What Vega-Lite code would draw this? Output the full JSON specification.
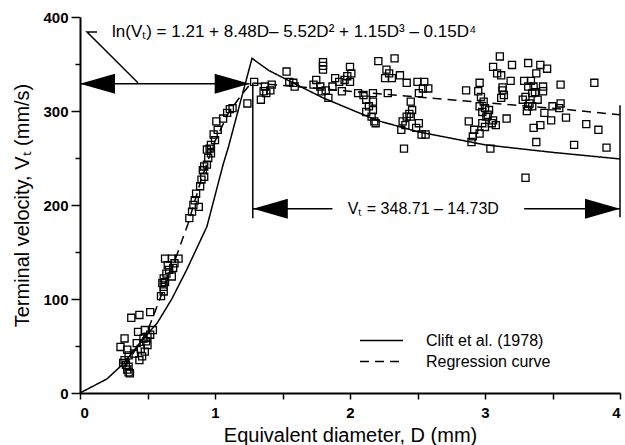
{
  "$schema": "https://vega.github.io/schema/vega-lite/v6.json",
  "width": 540,
  "height": 376,
  "autosize": {"type": "none"},
  "padding": {"left": 80, "top": 17, "right": 5, "bottom": 52},
  "background": "white",
  "config": {
    "view": {"stroke": null},
    "font": "Liberation Sans",
    "axis": {
      "grid": false,
      "domainColor": "black",
      "domainWidth": 2,
      "tickColor": "black",
      "tickWidth": 1.5,
      "labelColor": "black",
      "labelFont": "Liberation Sans",
      "labelFontSize": 15,
      "labelFontWeight": "bold",
      "titleColor": "black",
      "titleFont": "Liberation Sans",
      "titleFontSize": 20,
      "titleFontWeight": "normal"
    },
    "legend": {
      "labelFont": "Liberation Sans",
      "labelFontSize": 16,
      "labelColor": "black"
    }
  },
  "datasets": {
    "pts": [
      {"D":0.38,"V":80},{"D":0.44,"V":83},{"D":0.52,"V":86},{"D":0.33,"V":58},{"D":0.30,"V":49},{"D":0.35,"V":46},
      {"D":0.43,"V":65},{"D":0.48,"V":67},{"D":0.54,"V":67},{"D":0.50,"V":60},{"D":0.47,"V":58},{"D":0.50,"V":51},
      {"D":0.48,"V":44},{"D":0.44,"V":35},{"D":0.46,"V":39},{"D":0.33,"V":35},{"D":0.36,"V":28},{"D":0.37,"V":21},
      {"D":0.35,"V":25},{"D":0.32,"V":32},{"D":0.36,"V":40},{"D":0.42,"V":53},{"D":0.49,"V":55},{"D":0.36,"V":22},
      {"D":0.34,"V":30},{"D":0.45,"V":47},{"D":0.52,"V":62},{"D":0.40,"V":42},
      {"D":0.62,"V":113},{"D":0.63,"V":118},{"D":0.62,"V":108},{"D":0.60,"V":103},{"D":0.61,"V":117},{"D":0.63,"V":143},
      {"D":0.68,"V":143},{"D":0.73,"V":143},{"D":0.65,"V":136},{"D":0.69,"V":133},{"D":0.64,"V":127},{"D":0.68,"V":124},
      {"D":0.62,"V":122},{"D":0.66,"V":131},{"D":0.70,"V":138},
      {"D":0.81,"V":186},{"D":0.83,"V":193},{"D":0.84,"V":200},{"D":0.85,"V":205},{"D":0.88,"V":198},{"D":0.86,"V":212},
      {"D":0.89,"V":220},{"D":0.90,"V":227},{"D":0.92,"V":230},{"D":0.91,"V":237},{"D":0.94,"V":243},{"D":0.95,"V":250},
      {"D":0.97,"V":255},{"D":0.92,"V":241},{"D":0.94,"V":259},{"D":0.97,"V":264},{"D":1.00,"V":269},{"D":0.99,"V":275},
      {"D":1.02,"V":280},{"D":1.01,"V":289},{"D":1.06,"V":292},{"D":1.09,"V":298},{"D":1.11,"V":302},{"D":1.13,"V":303},
      {"D":1.24,"V":308},{"D":1.29,"V":331},{"D":0.96,"V":260},
      {"D":1.36,"V":321},{"D":1.34,"V":312},{"D":1.37,"V":326},{"D":1.38,"V":319},{"D":1.41,"V":322},{"D":1.42,"V":328},
      {"D":1.53,"V":342},{"D":1.55,"V":331},{"D":1.58,"V":330},{"D":1.59,"V":326},
      {"D":1.80,"V":352},{"D":1.80,"V":348},{"D":1.80,"V":344},{"D":1.75,"V":333},{"D":1.73,"V":328},{"D":1.78,"V":326},
      {"D":1.79,"V":321},{"D":1.82,"V":322},{"D":1.84,"V":314},{"D":1.89,"V":335},{"D":1.92,"V":331},{"D":1.94,"V":321},
      {"D":1.87,"V":326},{"D":2.00,"V":347},{"D":2.01,"V":340},{"D":1.98,"V":337},{"D":2.00,"V":331},{"D":1.96,"V":333},
      {"D":2.06,"V":319},{"D":2.10,"V":317},{"D":2.12,"V":312},{"D":2.14,"V":305},{"D":2.12,"V":299},{"D":2.16,"V":294},
      {"D":2.18,"V":289},{"D":2.19,"V":287},{"D":2.17,"V":319},{"D":2.17,"V":310},{"D":2.17,"V":301},
      {"D":2.21,"V":353},{"D":2.33,"V":356},{"D":2.27,"V":344},{"D":2.29,"V":340},{"D":2.26,"V":335},{"D":2.31,"V":335},
      {"D":2.37,"V":338},{"D":2.42,"V":330},{"D":2.50,"V":331},{"D":2.55,"V":331},{"D":2.54,"V":324},{"D":2.51,"V":319},
      {"D":2.58,"V":324},{"D":2.28,"V":319},{"D":2.45,"V":310},{"D":2.46,"V":301},{"D":2.42,"V":294},{"D":2.39,"V":289},
      {"D":2.45,"V":294},{"D":2.38,"V":280},{"D":2.49,"V":282},{"D":2.51,"V":287},{"D":2.53,"V":275},{"D":2.56,"V":275},
      {"D":2.40,"V":260},{"D":2.44,"V":297},{"D":2.41,"V":285},
      {"D":2.86,"V":322},{"D":2.95,"V":321},{"D":2.96,"V":330},{"D":2.88,"V":289},{"D":2.96,"V":305},{"D":2.98,"V":299},
      {"D":3.01,"V":294},{"D":2.98,"V":287},{"D":2.96,"V":276},{"D":2.91,"V":273},{"D":2.90,"V":267},{"D":3.04,"V":260},
      {"D":3.03,"V":301},{"D":3.06,"V":290},{"D":3.06,"V":347},{"D":3.09,"V":340},{"D":2.99,"V":310},{"D":3.00,"V":303},
      {"D":3.02,"V":296},{"D":2.97,"V":315},{"D":3.00,"V":283},{"D":2.92,"V":280},
      {"D":3.11,"V":358},{"D":3.20,"V":349},{"D":3.32,"V":351},{"D":3.41,"V":349},{"D":3.46,"V":345},{"D":3.12,"V":338},
      {"D":3.19,"V":332},{"D":3.38,"V":340},{"D":3.29,"V":332},{"D":3.34,"V":332},{"D":3.32,"V":326},{"D":3.36,"V":326},
      {"D":3.43,"V":326},{"D":3.43,"V":321},{"D":3.35,"V":319},{"D":3.13,"V":322},{"D":3.14,"V":317},{"D":3.12,"V":314},
      {"D":3.28,"V":312},{"D":3.33,"V":308},{"D":3.35,"V":305},{"D":3.32,"V":305},{"D":3.56,"V":328},{"D":3.81,"V":330},
      {"D":3.50,"V":305},{"D":3.56,"V":308},{"D":3.55,"V":303},{"D":3.44,"V":298},{"D":3.49,"V":290},{"D":3.60,"V":293},
      {"D":3.41,"V":285},{"D":3.36,"V":282},{"D":3.75,"V":286},{"D":3.84,"V":280},{"D":3.38,"V":267},{"D":3.66,"V":264},
      {"D":3.90,"V":261},{"D":3.30,"V":229},{"D":3.16,"V":292},{"D":3.08,"V":285},{"D":3.30,"V":315},{"D":3.39,"V":312},
      {"D":3.37,"V":320},{"D":3.31,"V":300},{"D":3.13,"V":325},{"D":3.05,"V":287}
    ],
    "curves": [
      {"series":"Clift et al. (1978)","D":0,"V":0},
      {"series":"Clift et al. (1978)","D":0.2,"V":15},
      {"series":"Clift et al. (1978)","D":0.32,"V":31},
      {"series":"Clift et al. (1978)","D":0.47,"V":58},
      {"series":"Clift et al. (1978)","D":0.57,"V":74},
      {"series":"Clift et al. (1978)","D":0.68,"V":100},
      {"series":"Clift et al. (1978)","D":0.79,"V":131},
      {"series":"Clift et al. (1978)","D":0.94,"V":177},
      {"series":"Clift et al. (1978)","D":1.0,"V":210},
      {"series":"Clift et al. (1978)","D":1.06,"V":243},
      {"series":"Clift et al. (1978)","D":1.1,"V":262},
      {"series":"Clift et al. (1978)","D":1.274,"V":356},
      {"series":"Clift et al. (1978)","D":1.4,"V":343},
      {"series":"Clift et al. (1978)","D":1.55,"V":332},
      {"series":"Clift et al. (1978)","D":1.8,"V":314},
      {"series":"Clift et al. (1978)","D":2.0,"V":302},
      {"series":"Clift et al. (1978)","D":2.2,"V":290},
      {"series":"Clift et al. (1978)","D":2.5,"V":278},
      {"series":"Clift et al. (1978)","D":3.0,"V":264},
      {"series":"Clift et al. (1978)","D":3.5,"V":256},
      {"series":"Clift et al. (1978)","D":4.0,"V":249},
      {"series":"Regression curve","D":0.33,"V":28},
      {"series":"Regression curve","D":0.42,"V":48},
      {"series":"Regression curve","D":0.5,"V":66},
      {"series":"Regression curve","D":0.6,"V":103},
      {"series":"Regression curve","D":0.7,"V":140},
      {"series":"Regression curve","D":0.8,"V":180},
      {"series":"Regression curve","D":0.9,"V":228},
      {"series":"Regression curve","D":1.0,"V":268},
      {"series":"Regression curve","D":1.1,"V":298},
      {"series":"Regression curve","D":1.2,"V":318},
      {"series":"Regression curve","D":1.27,"V":330},
      {"series":"Regression curve","D":2.0,"V":321},
      {"series":"Regression curve","D":2.5,"V":315},
      {"series":"Regression curve","D":3.0,"V":309},
      {"series":"Regression curve","D":3.5,"V":303},
      {"series":"Regression curve","D":4.0,"V":296}
    ],
    "guides": [
      {"seg":"leader","o":1,"D":0.126,"V":384},
      {"seg":"leader","o":2,"D":0.052,"V":384},
      {"seg":"leader","o":3,"D":0.429,"V":330},
      {"seg":"upper","o":1,"D":0,"V":329},
      {"seg":"upper","o":2,"D":1.257,"V":329},
      {"seg":"vL","o":1,"D":1.28,"V":330},
      {"seg":"vL","o":2,"D":1.28,"V":186},
      {"seg":"vR","o":1,"D":4,"V":306},
      {"seg":"vR","o":2,"D":4,"V":187},
      {"seg":"lowL","o":1,"D":1.28,"V":196},
      {"seg":"lowL","o":2,"D":1.87,"V":196},
      {"seg":"lowR","o":1,"D":3.29,"V":196},
      {"seg":"lowR","o":2,"D":4,"V":196}
    ],
    "heads": [
      {"dir":"L","D":0,"V":329},
      {"dir":"R","D":1.257,"V":329},
      {"dir":"L","D":1.28,"V":196},
      {"dir":"R","D":4,"V":196}
    ],
    "eqTop": [
      {"txt":"ln(Vₜ) = 1.21 + 8.48D– 5.52D² + 1.15D³ – 0.15D⁴","D":0.237,"V":384}
    ],
    "eqLow": [
      {"txt":"Vₜ = 348.71 – 14.73D","D":2.543,"V":196}
    ]
  },
  "encoding": {
    "x": {
      "field": "D", "type": "quantitative",
      "scale": {"domain": [0, 4], "nice": false},
      "axis": {
        "title": "Equivalent diameter, D (mm)",
        "values": [0, 0.5, 1, 1.5, 2, 2.5, 3, 3.5, 4],
        "labelExpr": "datum.value % 1 === 0 ? format(datum.value, 'd') : ''",
        "tickSize": 6,
        "labelPadding": 6,
        "titlePadding": 5
      }
    },
    "y": {
      "field": "V", "type": "quantitative",
      "scale": {"domain": [0, 400], "nice": false},
      "axis": {
        "title": "Terminal velocity, Vₜ (mm/s)",
        "values": [0, 50, 100, 150, 200, 250, 300, 350, 400],
        "labelExpr": "datum.value % 100 === 0 ? format(datum.value, 'd') : ''",
        "tickSize": {"condition": {"test": "datum.value % 100 === 0", "value": 9}, "value": 5},
        "labelPadding": 3,
        "titlePadding": 10
      }
    }
  },
  "layer": [
    {
      "data": {"name": "pts"},
      "mark": {"type": "point", "shape": "square", "filled": false, "size": 50, "stroke": "black", "strokeWidth": 1.3, "opacity": 1}
    },
    {
      "data": {"name": "curves"},
      "mark": {"type": "line", "color": "black", "strokeWidth": 1.5},
      "encoding": {
        "strokeDash": {
          "field": "series", "type": "nominal",
          "scale": {"domain": ["Clift et al. (1978)", "Regression curve"], "range": [[1, 0], [9, 6]]},
          "legend": {
            "title": null,
            "orient": "none",
            "legendX": 279,
            "legendY": 313,
            "symbolType": "stroke",
            "symbolSize": 1849,
            "symbolStrokeColor": "black",
            "symbolStrokeWidth": 1.5,
            "labelOffset": 22,
            "clipHeight": 21,
            "rowPadding": 0,
            "padding": 0
          }
        }
      }
    },
    {
      "data": {"name": "guides"},
      "mark": {"type": "line", "color": "black", "strokeWidth": 1.5},
      "encoding": {"detail": {"field": "seg"}, "order": {"field": "o"}}
    },
    {
      "data": {"name": "heads"},
      "mark": {"type": "point", "filled": true, "color": "black", "opacity": 1, "size": 1225, "strokeWidth": 0},
      "encoding": {
        "shape": {
          "field": "dir", "type": "nominal",
          "scale": {"domain": ["L", "R"], "range": ["M0,0L2,-0.57L2,0.57Z", "M0,0L-2,-0.57L-2,0.57Z"]},
          "legend": null
        }
      }
    },
    {
      "data": {"name": "eqTop"},
      "mark": {"type": "text", "font": "Liberation Sans", "fontSize": 17, "color": "black", "baseline": "middle", "align": "left"},
      "encoding": {"text": {"field": "txt"}}
    },
    {
      "data": {"name": "eqLow"},
      "mark": {"type": "text", "font": "Liberation Sans", "fontSize": 16, "color": "black", "baseline": "middle", "align": "center"},
      "encoding": {"text": {"field": "txt"}}
    }
  ]
}
